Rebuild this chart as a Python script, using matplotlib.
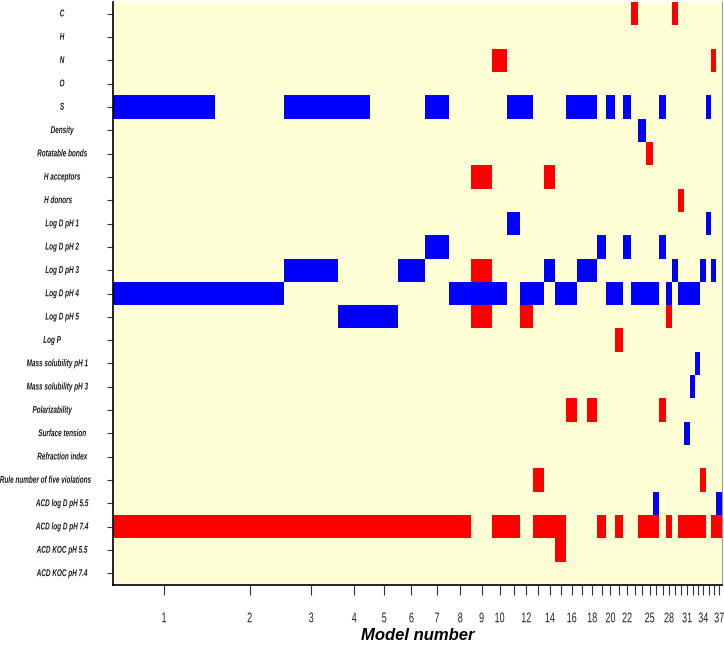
import numpy as np
import matplotlib
matplotlib.use("Agg")
import matplotlib.pyplot as plt
import matplotlib.transforms as mtransforms
from matplotlib.patheffects import AbstractPathEffect
from matplotlib.colors import ListedColormap, BoundaryNorm

descriptors = ["C", "H", "N", "O", "S", "Density", "Rotatable bonds", "H acceptors",
               "H donors", "Log D pH 1", "Log D pH 2", "Log D pH 3", "Log D pH 4",
               "Log D pH 5", "Log P", "Mass solubility pH 1", "Mass solubility pH 3",
               "Polarizability", "Surface tension", "Refraction index",
               "Rule number of five violations", "ACD log D pH 5.5", "ACD log D pH 7.4",
               "ACD KOC pH 5.5", "ACD KOC pH 7.4"]
n_models = 37
labelled_models = [1, 2, 3, 4, 5, 6, 7, 8, 9, 10, 12, 14, 16, 18, 20, 22, 25, 28, 31, 34, 37]

# models in which the descriptor enters with positive (blue) / negative (red) sign
blue_models = {
    "S": [1, 3, 4, 7, 11, 12, 16, 17, 18, 20, 22, 27, 35],
    "Density": [24],
    "Log D pH 1": [11, 35],
    "Log D pH 2": [7, 19, 22, 27],
    "Log D pH 3": [3, 6, 14, 17, 18, 29, 34, 36],
    "Log D pH 4": [1, 2, 8, 9, 10, 12, 13, 15, 16, 20, 21, 23, 24, 25, 26, 28, 30, 31, 32, 33],
    "Log D pH 5": [4, 5],
    "Mass solubility pH 1": [33],
    "Mass solubility pH 3": [32],
    "Surface tension": [31],
    "ACD log D pH 5.5": [26, 37],
}
red_models = {
    "C": [23, 29],
    "N": [10, 36],
    "Rotatable bonds": [25],
    "H acceptors": [9, 14],
    "H donors": [30],
    "Log D pH 3": [9],
    "Log D pH 5": [9, 12, 28],
    "Log P": [21],
    "Polarizability": [16, 18, 27],
    "Rule number of five violations": [13, 34],
    "ACD log D pH 7.4": [1, 2, 3, 4, 5, 6, 7, 8, 10, 11, 13, 14, 15, 19, 21, 24, 25, 26,
                         28, 30, 31, 32, 33, 34, 36, 37],
    "ACD KOC pH 5.5": [15],
}

# the x axis of the original is stretched: column boundaries (model +/- 0.5)
# sit at these relative positions along the axis
edge_model = np.arange(0.5, n_models + 1)
edge_pos = np.array([113, 215, 284, 338, 370, 398, 424.5, 449, 471, 491.5, 507, 519.5,
                     532.3, 544, 555, 565.7, 577, 587, 596.5, 605.8, 614.3, 622.4, 630.8,
                     638, 645.8, 652.6, 659, 665.5, 671.5, 677.5, 683.7, 689.5, 694.8,
                     700, 705.5, 710.8, 715.8, 721.5])


def fwd(x):
    return np.interp(x, edge_model, edge_pos)


def inv(x):
    return np.interp(x, edge_pos, edge_model)


class Tall(AbstractPathEffect):
    """stretch glyphs vertically around mid cap height, the original uses a
    tall condensed font"""

    def __init__(self, sy):
        super().__init__()
        self.sy = sy

    def draw_path(self, renderer, gc, tpath, affine, rgbFace=None):
        # text paths come in units of 100 per em, cap height ~72
        pre = mtransforms.Affine2D().translate(0, -36).scale(1, self.sy).translate(0, 36)
        renderer.draw_path(gc, tpath, pre + affine, rgbFace)


grid = np.zeros((len(descriptors), n_models))
for name, ms in blue_models.items():
    for m in ms:
        grid[descriptors.index(name), m - 1] = 1
for name, ms in red_models.items():
    for m in ms:
        grid[descriptors.index(name), m - 1] = -1
grid = np.ma.masked_equal(grid, 0)

plt.rcParams["font.family"] = ["Liberation Sans", "DejaVu Sans"]

fig = plt.figure(figsize=(7.24, 6.48), dpi=100)
ax = fig.add_axes([113 / 724, 1 - 585 / 648, 609 / 724, 583 / 648])
ax.set_facecolor("#ffffd6")
ax.set_xscale("function", functions=(fwd, inv))

cmap = ListedColormap(["#ff0000", "#0000ff"])
norm = BoundaryNorm([-2, 0, 2], cmap.N)
ax.pcolormesh(edge_model, np.arange(len(descriptors) + 1), grid, cmap=cmap, norm=norm)

ax.set_xlim(0.5, n_models + 0.5)
ax.set_ylim(len(descriptors), 0)

ax.set_xticks(np.arange(1, n_models + 1))
ax.set_xticklabels([str(m) if m in labelled_models else "" for m in range(1, n_models + 1)],
                   fontsize=6.5, color="#222222", path_effects=[Tall(1.55)])
ax.tick_params(axis="x", length=7, pad=13.5, color="#333333")

ax.set_yticks(np.arange(len(descriptors)) + 0.5)
ax.set_yticklabels([])
ax.tick_params(axis="y", length=4.5, color="#333333")

# descriptor names sit centred in the left margin
label_x = {"Log P": 52, "Polarizability": 52, "H donors": 58,
           "Mass solubility pH 1": 57, "Mass solubility pH 3": 57,
           "Rule number of five violations": 45}
trans = mtransforms.blended_transform_factory(fig.transFigure, ax.transData)
for i, name in enumerate(descriptors):
    fig.text(label_x.get(name, 62) / 724, i + 0.5, name, transform=trans,
             ha="center", va="center", fontsize=4.6, fontweight="bold",
             fontstyle="italic", color="#1a1a1a", path_effects=[Tall(1.55)])

ax.set_xlabel("Model number", fontsize=12, fontweight="bold", fontstyle="italic",
              labelpad=4)

ax.spines["top"].set_visible(False)
ax.spines["right"].set_color("#999999")
ax.spines["right"].set_linewidth(0.8)
ax.spines["left"].set_linewidth(1.2)
ax.spines["bottom"].set_linewidth(1.2)

fig.savefig("out.png", dpi=100)
